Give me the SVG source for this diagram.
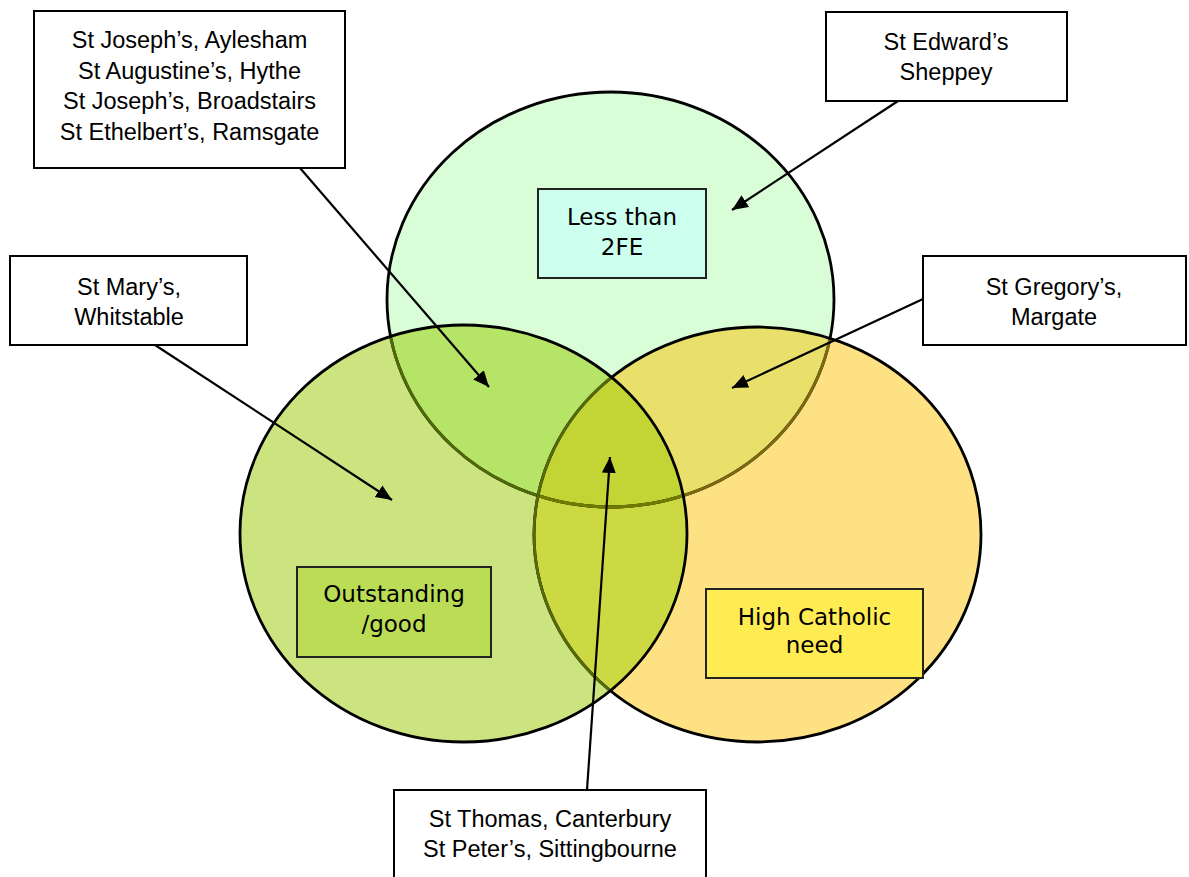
<svg xmlns="http://www.w3.org/2000/svg" width="1189" height="877" viewBox="0 0 1189 877">
<style>
.callout rect{fill:#fff;stroke:#000;stroke-width:2}
.callout text{font-family:"Liberation Sans",Arial,sans-serif;font-size:23.5px;fill:#000;text-anchor:middle}
.label rect{stroke:#222;stroke-width:2}
.label text{font-family:"DejaVu Sans",Verdana,sans-serif;font-size:23px;fill:#000;text-anchor:middle}
.conn line{stroke:#000;stroke-width:2.2;marker-end:url(#arr)}
.ring{fill:none;stroke-width:2.8}
</style>
<defs>
<ellipse id="eT" cx="610.5" cy="299.5" rx="223.5" ry="207.5"/>
<ellipse id="eL" cx="463.5" cy="533.5" rx="223.5" ry="208.5"/>
<ellipse id="eR" cx="757.5" cy="534.5" rx="223.5" ry="207.5"/>
<clipPath id="cT"><use href="#eT"/></clipPath>
<clipPath id="cL"><use href="#eL"/></clipPath>
<clipPath id="cR"><use href="#eR"/></clipPath>
<marker id="arr" markerUnits="userSpaceOnUse" markerWidth="18" markerHeight="16" refX="16" refY="7" orient="auto">
<path d="M0,0 L16,7 L0,14 z" fill="#000"/>
</marker>
</defs>
<rect width="1189" height="877" fill="#fff"/>
<g id="venn">
<use href="#eT" fill="#d9fdd7"/>
<use href="#eR" fill="#fde183"/>
<use href="#eL" fill="#cce480"/>
<use href="#eT" fill="#e8e06a" clip-path="url(#cR)"/>
<use href="#eT" fill="#b5e467" clip-path="url(#cL)"/>
<use href="#eL" fill="#cdd942" clip-path="url(#cR)"/>
<g clip-path="url(#cL)"><use href="#eT" fill="#c2d535" clip-path="url(#cR)"/></g>
<use href="#eT" class="ring" stroke="#000"/>
<use href="#eT" class="ring" stroke="#7d6a10" clip-path="url(#cR)"/>
<use href="#eT" class="ring" stroke="#4f6a08" clip-path="url(#cL)"/>
<g clip-path="url(#cL)"><use href="#eT" class="ring" stroke="#6f7a00" clip-path="url(#cR)"/></g>
<use href="#eR" class="ring" stroke="#000"/>
<use href="#eR" class="ring" stroke="#566a08" clip-path="url(#cL)"/>
<use href="#eL" class="ring" stroke="#000"/>
</g>
<g id="label-less" class="label">
<rect x="538" y="189" width="168" height="89" fill="#ccffee"/>
<text x="622" y="225">Less than</text>
<text x="622" y="255">2FE</text>
</g>
<g id="label-outstanding" class="label">
<rect x="297" y="567" width="194" height="90" fill="#bbdc55"/>
<text x="394" y="602">Outstanding</text>
<text x="394" y="632">/good</text>
</g>
<g id="label-catholic" class="label">
<rect x="706" y="589" width="217" height="89" fill="#ffeb52"/>
<text x="814.5" y="625">High Catholic</text>
<text x="814.5" y="653">need</text>
</g>
<g id="conn" class="conn">
<line x1="300" y1="168" x2="489" y2="387"/>
<line x1="898" y1="101" x2="732" y2="210"/>
<line x1="155" y1="345" x2="392" y2="500"/>
<line x1="923" y1="299" x2="732" y2="388"/>
<line x1="587" y1="790" x2="610" y2="457"/>
</g>
<g id="box-joseph" class="callout">
<rect x="34" y="11" width="311" height="157"/>
<text x="189.5" y="48">St Joseph’s, Aylesham</text>
<text x="189.5" y="78.5">St Augustine’s, Hythe</text>
<text x="189.5" y="109">St Joseph’s, Broadstairs</text>
<text x="189.5" y="139.5">St Ethelbert’s, Ramsgate</text>
</g>
<g id="box-edward" class="callout">
<rect x="826" y="12" width="241" height="89"/>
<text x="946" y="50">St Edward’s</text>
<text x="946" y="80">Sheppey</text>
</g>
<g id="box-mary" class="callout">
<rect x="10" y="256" width="237" height="89"/>
<text x="129" y="295">St Mary’s,</text>
<text x="129" y="325">Whitstable</text>
</g>
<g id="box-gregory" class="callout">
<rect x="923" y="256" width="263" height="89"/>
<text x="1054" y="295">St Gregory’s,</text>
<text x="1054" y="325">Margate</text>
</g>
<g id="box-thomas" class="callout">
<rect x="394" y="790" width="312" height="100"/>
<text x="550" y="827">St Thomas, Canterbury</text>
<text x="550" y="857">St Peter’s, Sittingbourne</text>
</g>
</svg>
